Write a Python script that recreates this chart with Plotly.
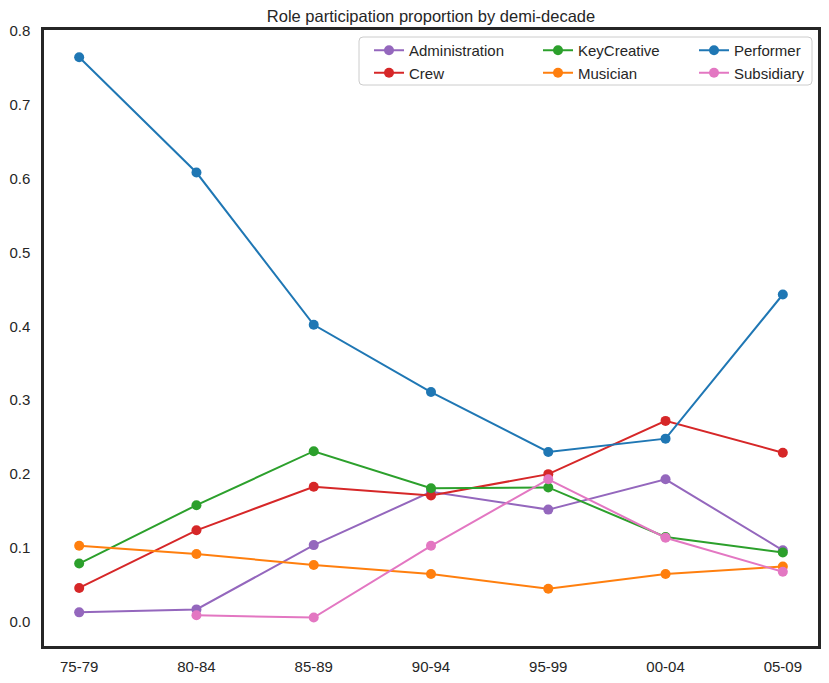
import plotly.graph_objects as go

periods = ["75-79", "80-84", "85-89", "90-94", "95-99", "00-04", "05-09"]

administration = [0.013, 0.017, 0.104, 0.176, 0.152, 0.193, 0.097]
crew = [0.046, 0.124, 0.183, 0.171, 0.200, 0.272, 0.229]
key_creative = [0.079, 0.158, 0.231, 0.181, 0.182, 0.115, 0.094]
musician = [0.103, 0.092, 0.077, 0.065, 0.045, 0.065, 0.075]
performer = [0.764, 0.608, 0.402, 0.311, 0.230, 0.248, 0.443]
subsidiary = [None, 0.009, 0.006, 0.103, 0.193, 0.114, 0.068]

series = [
    ("Administration", administration, "#9467bd", "legend"),
    ("Crew", crew, "#d62728", "legend"),
    ("KeyCreative", key_creative, "#2ca02c", "legend2"),
    ("Musician", musician, "#ff7f0e", "legend2"),
    ("Performer", performer, "#1f77b4", "legend3"),
    ("Subsidiary", subsidiary, "#e377c2", "legend3"),
]

W, H = 829, 683
L, R, T, B = 44, 11, 30, 37
PW, PH = W - L - R, H - T - B

fig = go.Figure()
for name, vals, color, lg in series:
    fig.add_trace(go.Scatter(
        x=periods, y=vals, name=name, mode="lines+markers",
        line=dict(color=color, width=2),
        marker=dict(color=color, size=10),
        legend=lg,
    ))

def px_x(px):
    return (px - L) / PW

def px_y(py):
    return (H - B - py) / PH

font = dict(family="Liberation Sans, Arial, sans-serif", size=15, color="#262626")
leg_common = dict(
    orientation="v", xanchor="left", yanchor="top",
    bgcolor="rgba(0,0,0,0)", borderwidth=0, font=font,
    tracegroupgap=0, itemwidth=30,
)

# legend box (rounded)
x0, x1 = px_x(359), px_x(812)
y0, y1 = px_y(85), px_y(37)
rx = 4 / PW
ry = 4 / PH
path = (f"M {x0+rx},{y1} L {x1-rx},{y1} Q {x1},{y1} {x1},{y1-ry} "
        f"L {x1},{y0+ry} Q {x1},{y0} {x1-rx},{y0} L {x0+rx},{y0} "
        f"Q {x0},{y0} {x0},{y0+ry} L {x0},{y1-ry} Q {x0},{y1} {x0+rx},{y1} Z")

fig.update_layout(
    width=W, height=H,
    margin=dict(l=L, r=R, t=T, b=B, autoexpand=False),
    paper_bgcolor="white", plot_bgcolor="white",
    font=font,
    title=dict(text="Role participation proportion by demi-decade",
               x=0.5, xref="paper", xanchor="center",
               y=1 - 16.5 / H, yref="container", yanchor="middle",
               font=dict(family="Liberation Sans, Arial, sans-serif", size=16.5, color="#262626")),
    showlegend=True,
    legend=dict(x=px_x(369), y=px_y(34), **leg_common),
    legend2=dict(x=px_x(538), y=px_y(34), **leg_common),
    legend3=dict(x=px_x(694), y=px_y(34), **leg_common),
    shapes=[dict(type="path", path=path, xref="paper", yref="paper",
                 line=dict(color="#cccccc", width=1),
                 fillcolor="rgba(255,255,255,0.8)", layer="below")],
    xaxis=dict(type="category", range=[-0.3, 6.3], showgrid=False, zeroline=False,
               showline=True, mirror=True, linecolor="#262626", linewidth=2.5,
               ticks="", ticklabelstandoff=5, tickfont=font, automargin=False),
    yaxis=dict(range=[-0.0325, 0.8008], showgrid=False, zeroline=False,
               tickvals=[0, 0.1, 0.2, 0.3, 0.4, 0.5, 0.6, 0.7, 0.8],
               tickformat=".1f",
               showline=True, mirror=True, linecolor="#262626", linewidth=2.5,
               ticks="", ticklabelstandoff=8, tickfont=font, automargin=False),
)

fig.write_html("out.html", config={"displayModeBar": False},
               post_script="document.body.style.margin='0';")
